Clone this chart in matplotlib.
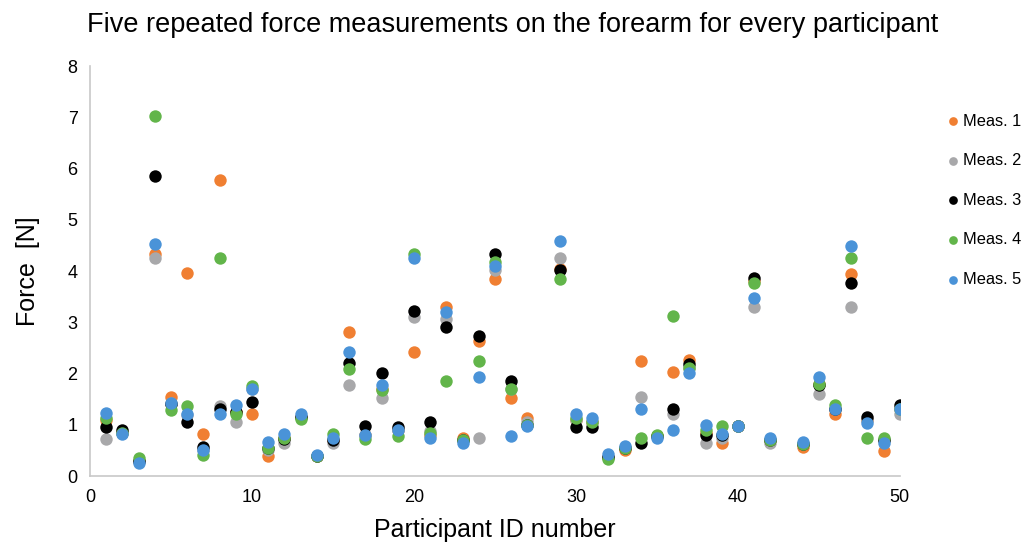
import numpy as np
import matplotlib.pyplot as plt

plt.rcParams['font.family'] = ['Liberation Sans', 'DejaVu Sans']

participants = [1, 2, 3, 4, 5, 6, 7, 8, 9, 10, 11, 12, 13, 14, 15, 16, 17, 18, 19, 20,
                21, 22, 23, 24, 25, 26, 27, 29, 30, 31, 32, 33, 34, 35, 36, 37, 38, 39, 40,
                41, 42, 44, 45, 46, 47, 48, 49, 50]

meas1 = [1.10, 0.85, 0.30, 4.33, 1.54, 3.97, 0.82, 5.77, 1.25, 1.21, 0.40, 0.75, 1.15, 0.40,
         0.70, 2.81, 0.80, 1.70, 0.90, 2.42, 0.80, 3.30, 0.74, 2.64, 3.85, 1.53, 1.14, 4.05,
         1.10, 1.05, 0.38, 0.50, 2.25, 0.78, 2.03, 2.26, 0.85, 0.64, 0.98, 3.80, 0.70, 0.57,
         1.80, 1.21, 3.94, 1.10, 0.49, 1.30]
meas2 = [0.72, 0.85, 0.30, 4.25, 1.42, 1.20, 0.50, 1.37, 1.05, 1.70, 0.50, 0.65, 1.15, 0.40,
         0.65, 1.78, 0.80, 1.52, 0.90, 3.11, 0.88, 3.06, 0.70, 0.74, 4.02, 1.70, 1.06, 4.25,
         1.10, 1.05, 0.38, 0.55, 1.54, 0.78, 1.21, 2.10, 0.64, 0.74, 0.98, 3.30, 0.65, 0.62,
         1.61, 1.30, 3.30, 1.10, 0.70, 1.21]
meas3 = [0.96, 0.90, 0.30, 5.85, 1.40, 1.05, 0.57, 1.30, 1.25, 1.45, 0.55, 0.72, 1.15, 0.40,
         0.70, 2.20, 0.97, 2.02, 0.96, 3.22, 1.05, 2.90, 0.70, 2.73, 4.33, 1.85, 1.00, 4.02,
         0.96, 0.96, 0.38, 0.55, 0.65, 0.78, 1.31, 2.19, 0.80, 0.80, 0.98, 3.86, 0.70, 0.62,
         1.77, 1.30, 3.77, 1.15, 0.70, 1.38]
meas4 = [1.13, 0.85, 0.35, 7.02, 1.29, 1.36, 0.41, 4.25, 1.21, 1.75, 0.55, 0.75, 1.12, 0.40,
         0.83, 2.09, 0.72, 1.68, 0.79, 4.34, 0.85, 1.85, 0.70, 2.24, 4.18, 1.69, 1.00, 3.85,
         1.13, 1.06, 0.33, 0.55, 0.75, 0.81, 3.12, 2.10, 0.90, 0.98, 0.98, 3.76, 0.70, 0.62,
         1.80, 1.38, 4.25, 0.74, 0.74, 1.30]
meas5 = [1.23, 0.82, 0.25, 4.52, 1.42, 1.21, 0.50, 1.22, 1.38, 1.70, 0.66, 0.82, 1.22, 0.41,
         0.74, 2.42, 0.81, 1.78, 0.90, 4.25, 0.74, 3.20, 0.65, 1.93, 4.10, 0.78, 0.98, 4.58,
         1.22, 1.14, 0.43, 0.59, 1.30, 0.74, 0.90, 2.02, 1.00, 0.82, 0.98, 3.47, 0.74, 0.66,
         1.93, 1.30, 4.49, 1.03, 0.65, 1.30]

labels = ['Meas. 1', 'Meas. 2', 'Meas. 3', 'Meas. 4', 'Meas. 5']
colors = ['#F07F32', '#A8A8AA', '#000000', '#62B54A', '#4A93D8']

fig = plt.figure(figsize=(10.29, 5.46), dpi=100)
ax = fig.add_axes([0.0875, 0.128, 0.787, 0.751])

for vals, lab, col in zip([meas1, meas2, meas3, meas4, meas5], labels, colors):
    ax.scatter(participants, vals, s=80, color=col, label=lab, linewidths=0, zorder=3)

ax.set_xlim(0, 50)
ax.set_ylim(0, 8)
ax.set_xticks(np.arange(0, 51, 10))
ax.set_yticks(np.arange(0, 9, 1))
ax.tick_params(length=0, labelsize=13, pad=9)
for s in ['top', 'right']:
    ax.spines[s].set_visible(False)
for s in ['left', 'bottom']:
    ax.spines[s].set_color('#C8C8C8')
    ax.spines[s].set_linewidth(1.2)

ax.set_xlabel('Participant ID number', fontsize=18, labelpad=9)
ax.set_ylabel('Force  [N]', fontsize=18, labelpad=20)
fig.text(0.085, 0.955, 'Five repeated force measurements on the forearm for every participant',
         fontsize=19.5, va='center', ha='left')

leg = ax.legend(loc='upper left', bbox_to_anchor=(1.045, 0.9), frameon=False,
                fontsize=11.8, handletextpad=0.0, labelspacing=1.5, markerscale=0.7,
                borderaxespad=0, handlelength=1.2)

fig.savefig('out.png', dpi=100)
